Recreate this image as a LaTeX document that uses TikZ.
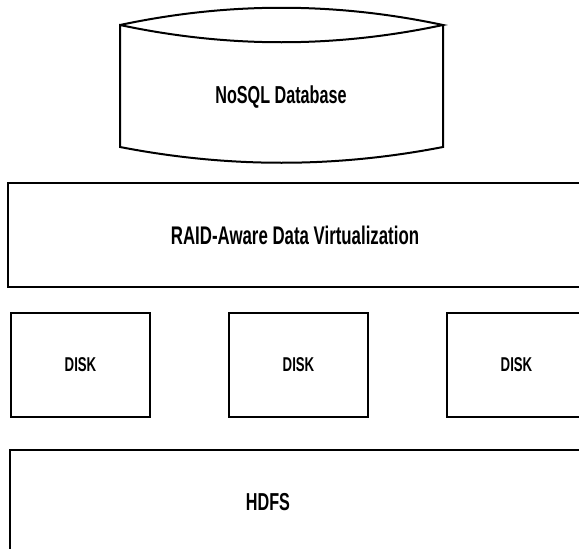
\documentclass[tikz,border=0pt]{standalone}
\usepackage{fontspec}
\setmainfont{Liberation Sans}[FakeStretch=0.66]
\usetikzlibrary{positioning}

\begin{document}
\begin{tikzpicture}[x=1pt, y=-1pt, line width=2pt, node distance=77pt,
    every node/.style={font=\bfseries\fontsize{24.5}{29}\selectfont},
    box/.style={draw, minimum width=139pt, minimum height=104pt, inner sep=0pt},
    disk/.style={box, font=\bfseries\fontsize{20}{24}\selectfont}]
  \useasboundingbox (0,0) rectangle (579,549);
  \clip (0,0) rectangle (579,549);
  % database on top
  \draw (120,25) .. controls (228,2) and (335,2) .. (443,25)
        .. controls (335,48) and (228,48) .. (120,25) -- (120,147)
        .. controls (228,168) and (335,168) .. (443,147) -- (443,25);
  \node (db) at (281,97) {NoSQL Database};
  % virtualization layer
  \node[box, minimum width=574pt, font=\bfseries\fontsize{25.5}{30}\selectfont] (raid) at (295,235) {RAID-Aware Data Virtualization};
  % disks
  \node[disk] (disk1) at (80.5,365) {DISK};
  \node[disk, right=of disk1] (disk2) {DISK};
  \node[disk, right=of disk2] (disk3) {DISK};
  % file system
  \draw (10,450) rectangle (590,560);
  \node[font=\bfseries\fontsize{24.5}{29}\selectfont] (hdfs) at (268,502) {HDFS};
\end{tikzpicture}
\end{document}
